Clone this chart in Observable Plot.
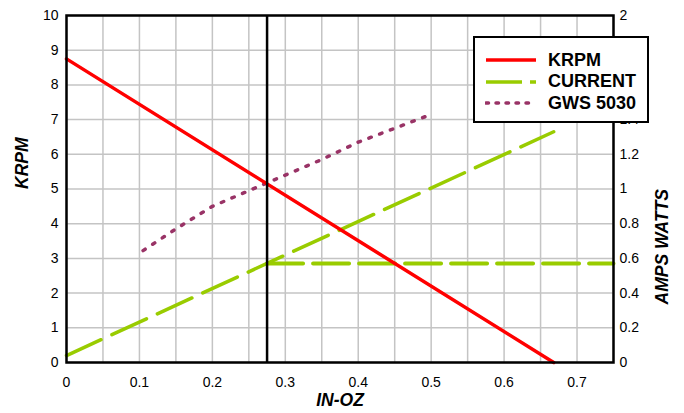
<!DOCTYPE html>
<html>
<head>
<meta charset="utf-8">
<script src="https://cdn.jsdelivr.net/npm/d3@7"></script>
<script src="https://cdn.jsdelivr.net/npm/@observablehq/plot@0.6"></script>
<style>
  body { margin: 0; background: #fff; }
  #wrap { position: relative; width: 684px; height: 413px; font-family: "Liberation Sans", Arial, sans-serif; }
  #legend { position: absolute; left: 473px; top: 36px; width: 172px; height: 83px; border: 2px solid #000; background: #fff; }
  #legend .row { position: absolute; left: 0; height: 22px; display: flex; align-items: center; }
  #legend svg { margin-left: 10px; }
  #legend span { margin-left: 11px; font-weight: bold; font-size: 18px; color: #000; }
</style>
</head>
<body>
<div id="wrap"></div>
<script>
// ---- data ----
const opTorque = [0.275];                 // operating point (IN-OZ)
const krpmX = [0, 0.668];
const krpmY = [8.75, 0];
const currentX = [0, 0.668];
const currentAmps = [0.04, 1.33];
const currentOpX = [0.275, 0.75];
const currentOpAmps = [0.57, 0.57];
const gwsX = [0.105, 0.15, 0.2, 0.25, 0.3, 0.35, 0.4, 0.45, 0.5];
const gwsAmps = [0.645, 0.77, 0.9, 0.99, 1.08, 1.17, 1.27, 1.35, 1.43];
const xTicks = [0, 0.1, 0.2, 0.3, 0.4, 0.5, 0.6, 0.7];
const xGrid = [0, 0.05, 0.1, 0.15, 0.2, 0.25, 0.3, 0.35, 0.4, 0.45, 0.5, 0.55, 0.6, 0.65, 0.7, 0.75];
const krpmTicks = [0, 1, 2, 3, 4, 5, 6, 7, 8, 9, 10];
const ampsTicks = [0, 0.2, 0.4, 0.6, 0.8, 1, 1.2, 1.4, 1.6, 1.8, 2];
const ampsPerKrpm = 0.2;  // right axis: 2 amps at 10 KRPM

const krpm = krpmX.map((x, i) => ({x, y: krpmY[i]}));
const current = currentX.map((x, i) => ({x, a: currentAmps[i]}));
const currentOp = currentOpX.map((x, i) => ({x, a: currentOpAmps[i]}));
const gws = gwsX.map((x, i) => ({x, a: gwsAmps[i]}));

const RED = "#ff0000", GREEN = "#99cc00", PURPLE = "#993366";

const chart = Plot.plot({
  width: 684,
  height: 413,
  marginLeft: 66,
  marginRight: 71,
  marginTop: 15,
  marginBottom: 51,
  style: {fontFamily: '"Liberation Sans", Arial, sans-serif', fontSize: "14px", color: "#000", background: "#fff"},
  x: {domain: [0, 0.75]},
  y: {domain: [0, 10]},
  marks: [
    Plot.gridX(xGrid, {stroke: "#c4c4c4", strokeOpacity: 1, strokeWidth: 1.5}),
    Plot.gridY(krpmTicks, {stroke: "#c4c4c4", strokeOpacity: 1, strokeWidth: 1.5}),
    Plot.axisX(xTicks, {tickSize: 0, tickPadding: 15, label: null, tickFormat: d => String(d)}),
    Plot.axisY(krpmTicks, {anchor: "left", tickSize: 0, tickPadding: 8, label: null}),
    Plot.axisY(ampsTicks, {anchor: "right", y: d => d / ampsPerKrpm, tickSize: 0, tickPadding: 6, label: null,
      tickFormat: d => String(d)}),
    Plot.line(gws, {x: "x", y: d => d.a / ampsPerKrpm, stroke: PURPLE, strokeWidth: 3.5, strokeDasharray: "2.5,9", strokeLinecap: "round"}),
    Plot.line(current, {x: "x", y: d => d.a / ampsPerKrpm, stroke: GREEN, strokeWidth: 3.5, strokeDasharray: "38,12"}),
    Plot.line(currentOp, {x: "x", y: d => d.a / ampsPerKrpm, stroke: GREEN, strokeWidth: 4, strokeDasharray: "36,10"}),
    Plot.line(krpm, {x: "x", y: "y", stroke: RED, strokeWidth: 3.5}),
    Plot.ruleX(opTorque, {stroke: "#000", strokeWidth: 2.5}),
    Plot.frame({stroke: "#000", strokeWidth: 2.5}),
    Plot.text(["KRPM"], {frameAnchor: "left", dx: -44, rotate: -90, fontWeight: "bold", fontStyle: "italic", fontSize: 17.5, fill: "#000"}),
    Plot.text(["AMPS WATTS"], {frameAnchor: "right", dx: 49, rotate: -90, fontWeight: "bold", fontStyle: "italic", fontSize: 17.5, fill: "#000"}),
    Plot.text(["IN-OZ"], {frameAnchor: "bottom", dy: 43, fontWeight: "bold", fontStyle: "italic", fontSize: 17.5, fill: "#000"})
  ]
});

const wrap = document.getElementById("wrap");
wrap.appendChild(chart);

// legend
const legendItems = [
  {label: "KRPM", color: RED, dash: null, cap: "butt"},
  {label: "CURRENT", color: GREEN, dash: "36,8", cap: "butt"},
  {label: "GWS 5030", color: PURPLE, dash: "2.5,7.5", cap: "round"}
];
const leg = document.createElement("div");
leg.id = "legend";
legendItems.forEach((it, i) => {
  const row = document.createElement("div");
  row.className = "row";
  row.style.top = (11 + i * 21.5) + "px";
  row.innerHTML = `<svg width="52" height="8"><line x1="1" x2="51" y1="4" y2="4" stroke="${it.color}" stroke-width="3.5" ${it.dash ? `stroke-dasharray="${it.dash}"` : ""} stroke-linecap="${it.cap}"/></svg><span>${it.label}</span>`;
  leg.appendChild(row);
});
wrap.appendChild(leg);
</script>
</body>
</html>
